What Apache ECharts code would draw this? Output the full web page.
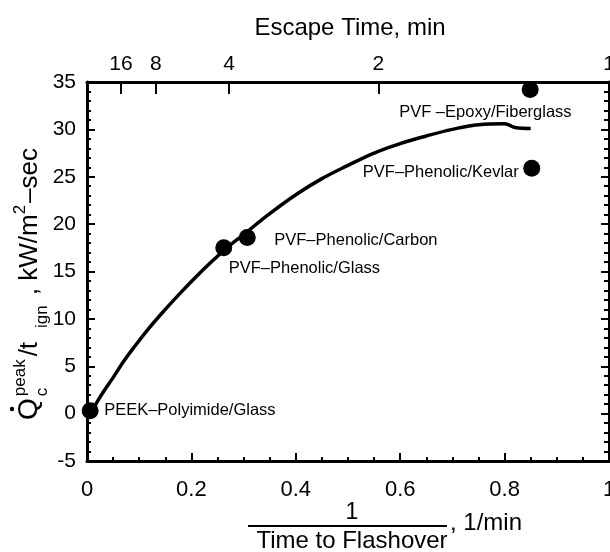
<!DOCTYPE html>
<html><head><meta charset="utf-8">
<script src="https://cdn.jsdelivr.net/npm/echarts@6/dist/echarts.min.js"></script>
<style>html,body{margin:0;padding:0;background:#fff}#c{width:610px;height:552px}</style>
</head><body><div id="c"></div>
<script>
// ---- data ----
const curveX = [0.01, 0.02, 0.035, 0.05, 0.07, 0.09, 0.12, 0.15, 0.18, 0.21, 0.24, 0.27, 0.30, 0.35, 0.40, 0.45, 0.50, 0.55, 0.60, 0.65, 0.70, 0.75, 0.80, 0.82, 0.85];
const curveY = [0.3, 1.3, 2.6, 3.8, 5.5, 7.0, 9.1, 11.0, 12.8, 14.5, 16.1, 17.6, 18.9, 21.1, 23.1, 24.8, 26.2, 27.5, 28.5, 29.3, 30.0, 30.5, 30.6, 30.2, 30.1];
const pointNames = ['PEEK–Polyimide/Glass', 'PVF–Phenolic/Glass', 'PVF–Phenolic/Carbon', 'PVF –Epoxy/Fiberglass', 'PVF–Phenolic/Kevlar'];
const pointX = [0.006, 0.262, 0.307, 0.849, 0.852];
const pointY = [0.3, 17.5, 18.6, 34.2, 25.9];
const escapeTickLabels = [16, 8, 4, 2, 1];
const escapeTickX = [0.065, 0.132, 0.272, 0.558, 1];
const xTicks = { min: 0, max: 1, interval: 0.2 };
const yTicks = { min: -5, max: 35, interval: 5 };

// ---- chart ----
const FONT = "'Liberation Sans', Arial, Helvetica, sans-serif";
const BLACK = '#000';
const chart = echarts.init(document.getElementById('c'), null, { renderer: 'canvas' });

const mctx = document.createElement('canvas').getContext('2d');
function tw(t, fs) { mctx.font = fs + 'px ' + FONT; return mctx.measureText(t).width; }

// y-axis title built from tokens (rotated group)
const tokenStyle = { big: { fs: 28, base: 38 }, main: { fs: 26, base: 38 }, sup: { fs: 17, base: 25 }, sub: { fs: 17, base: 47 } };
// [text, style, gapAfter, stacked]
const yTitleTokens = [['Q', 'big', 2], ['c', 'sub', 0, true], ['peak', 'sup', 3], ['/t', 'main', 14], ['ign', 'sub', 10], [', kW/m', 'main', 0], ['2', 'sup', 2], ['–sec', 'main', 0]];
const yTitleChildren = [];
let cur = -130;
yTitleTokens.forEach(([t, k, gap, stack]) => {
  const s = tokenStyle[k];
  yTitleChildren.push({ type: 'text', x: cur, y: s.base - 0.3 * s.fs,
    style: { text: t, font: s.fs + 'px ' + FONT, fill: BLACK, textAlign: 'left', textVerticalAlign: 'middle' } });
  if (!stack) cur += tw(t, s.fs) + gap;
});
yTitleChildren.push({ type: 'circle', shape: { cx: -119, cy: 12, r: 2.2 }, style: { fill: BLACK } });

const labelCfg = [
  { position: 'right', distance: 0, offset: [5.5, 0] },
  { position: 'right', distance: 0, offset: [-3.5, 21] },
  { position: 'right', distance: 0, offset: [18.5, 3] },
  { position: 'right', distance: 0, offset: [-139.5, 23] },
  { position: 'left', distance: 0, offset: [-4.5, 4] }
];

const axisLineStyle = { color: BLACK, width: 3 };

const option = {
  animation: false,
  backgroundColor: '#fff',
  textStyle: { fontFamily: FONT },
  grid: { left: 87, right: 1, top: 82, bottom: 91, containLabel: false, outerBoundsMode: 'none' },
  xAxis: [
    { type: 'value', position: 'bottom', min: xTicks.min, max: xTicks.max, interval: xTicks.interval,
      axisLine: { show: true, onZero: false, lineStyle: axisLineStyle },
      axisTick: { show: true, inside: true, length: 8, lineStyle: { color: BLACK, width: 2 } },
      minorTick: { show: true, splitNumber: 4, length: 4, lineStyle: { color: BLACK, width: 2 } },
      splitLine: { show: false },
      axisLabel: { color: BLACK, fontSize: 22, margin: 18, fontFamily: FONT } },
    { type: 'value', position: 'top', min: xTicks.min, max: xTicks.max,
      axisLine: { show: true, onZero: false, lineStyle: axisLineStyle },
      axisTick: { show: true, inside: true, length: 12, customValues: escapeTickX, lineStyle: { color: BLACK, width: 2 } },
      splitLine: { show: false },
      axisLabel: { color: BLACK, fontSize: 21, margin: 7, fontFamily: FONT, customValues: escapeTickX,
        formatter: v => { let bi = 0; escapeTickX.forEach((x, i) => { if (Math.abs(x - v) < Math.abs(escapeTickX[bi] - v)) bi = i; }); return String(escapeTickLabels[bi]); } } }
  ],
  yAxis: [
    { type: 'value', position: 'left', min: yTicks.min, max: yTicks.max, interval: yTicks.interval,
      axisLine: { show: true, onZero: false, lineStyle: axisLineStyle },
      axisTick: { show: true, inside: true, length: 8, lineStyle: { color: BLACK, width: 2 } },
      minorTick: { show: true, splitNumber: 5, length: 4, lineStyle: { color: BLACK, width: 2 } },
      splitLine: { show: false },
      axisLabel: { color: BLACK, fontSize: 21, margin: 11, fontFamily: FONT } },
    { type: 'value', position: 'right', min: yTicks.min, max: yTicks.max, interval: yTicks.interval,
      axisLine: { show: true, onZero: false, lineStyle: axisLineStyle },
      axisTick: { show: true, inside: true, length: 8, lineStyle: { color: BLACK, width: 2 } },
      minorTick: { show: true, splitNumber: 5, length: 5, lineStyle: { color: BLACK, width: 2 } },
      splitLine: { show: false },
      axisLabel: { show: false } }
  ],
  series: [
    { type: 'line', xAxisIndex: 0, yAxisIndex: 0, smooth: 0.4, symbol: 'none',
      lineStyle: { color: BLACK, width: 3.5 },
      data: curveX.map((x, i) => [x, curveY[i]]), z: 2 },
    { type: 'scatter', xAxisIndex: 0, yAxisIndex: 0, symbolSize: 17,
      itemStyle: { color: BLACK, opacity: 1 }, z: 3,
      data: pointX.map((x, i) => ({ name: pointNames[i], value: [x, pointY[i]],
        label: Object.assign({ show: true, formatter: '{b}', color: BLACK, fontSize: 16.5, fontFamily: FONT }, labelCfg[i]) })) }
  ],
  graphic: [
    { type: 'text', x: 350, y: 28, style: { text: 'Escape Time, min', font: '24px ' + FONT, fill: BLACK, textAlign: 'center', textVerticalAlign: 'middle' } },
    { type: 'group', x: 0, y: 290, rotation: Math.PI / 2, children: yTitleChildren },
    { type: 'text', style: { text: '1', font: '23px ' + FONT, fill: BLACK, textAlign: 'center', textVerticalAlign: 'middle' }, x: 352, y: 513 },
    { type: 'line', shape: { x1: 248, y1: 526, x2: 447, y2: 526 }, style: { stroke: BLACK, lineWidth: 2 } },
    { type: 'text', style: { text: 'Time to Flashover', font: '24px ' + FONT, fill: BLACK, textAlign: 'center', textVerticalAlign: 'middle' }, x: 352, y: 541 },
    { type: 'text', style: { text: ', 1/min', font: '24px ' + FONT, fill: BLACK, textAlign: 'left', textVerticalAlign: 'middle' }, x: 450, y: 523 }
  ]
};
chart.setOption(option);
</script>
</body></html>
